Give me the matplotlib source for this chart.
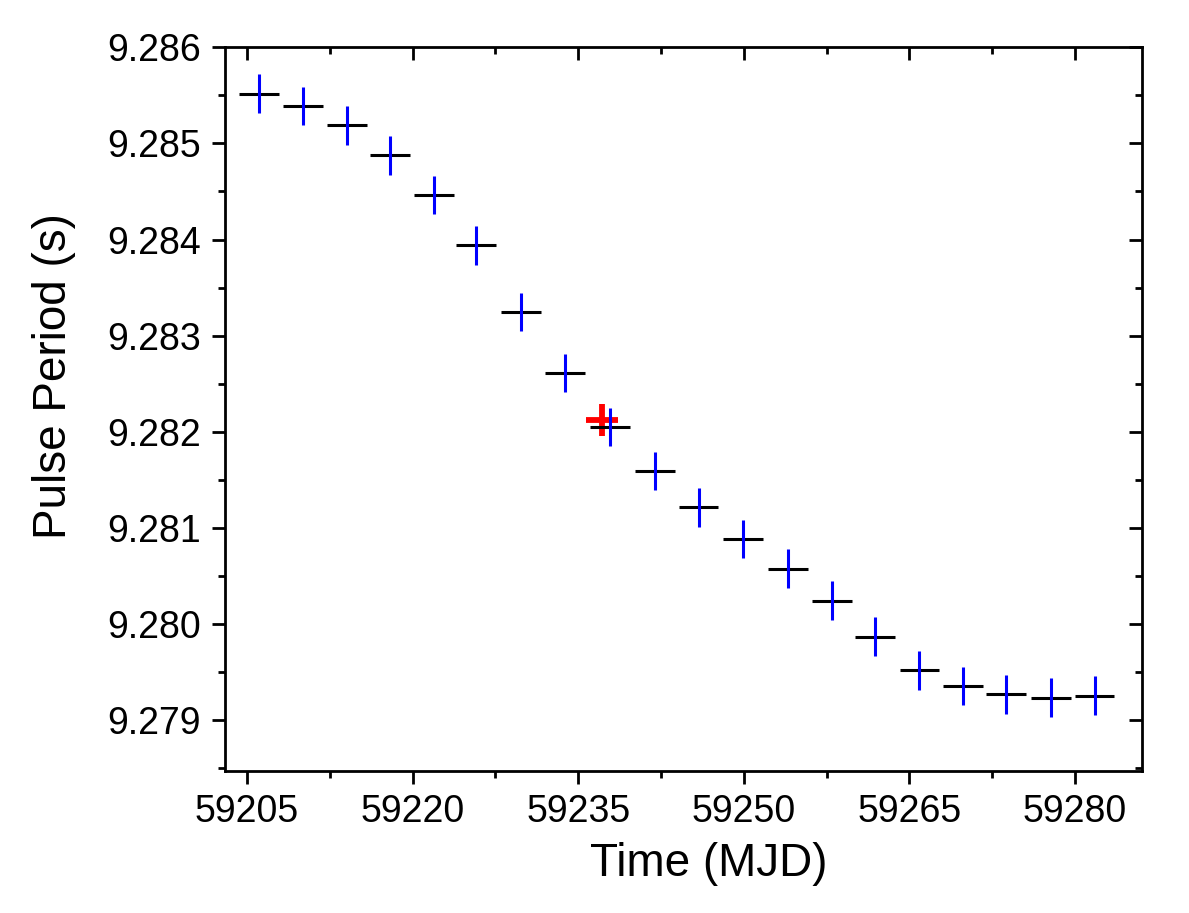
import matplotlib
matplotlib.use("Agg")
import matplotlib.pyplot as plt
from matplotlib.ticker import MultipleLocator, FormatStrFormatter

plt.rcParams['font.family'] = ['Liberation Sans', 'DejaVu Sans']

# Data (MJD, pulse period in s)
mjd = [59206.05, 59210.06, 59214.04, 59217.98, 59221.96, 59225.73, 59229.83,
       59233.81, 59237.88, 59241.92, 59245.90, 59249.94, 59254.00, 59257.98,
       59261.90, 59265.90, 59269.88, 59273.77, 59277.81, 59281.76]
period = [9.285519, 9.285392, 9.285187, 9.284875, 9.284463, 9.283938, 9.283246,
          9.282611, 9.282050, 9.281592, 9.281213, 9.280885, 9.280576, 9.280243,
          9.279868, 9.279518, 9.279356, 9.279268, 9.279234, 9.279255]
mjd_err = [1.8] * len(mjd)
period_err = [0.0002] * len(mjd)

red_mjd = [59237.13]
red_period = [9.282122]
red_mjd_err = [1.45]
red_period_err = [0.000167]

xticks = [59205, 59220, 59235, 59250, 59265, 59280]

fig = plt.figure(figsize=(11.89, 9.13), dpi=100)
ax = fig.add_axes([0.1892, 0.1555, 0.9602 - 0.1892, 0.9482 - 0.1555])

# red point
ax.errorbar(red_mjd, red_period, xerr=red_mjd_err, yerr=red_period_err,
            fmt='none', ecolor='red', elinewidth=4.2, capsize=0, zorder=2)
# horizontal (time) bars in black
ax.errorbar(mjd, period, xerr=mjd_err, fmt='none', ecolor='black',
            elinewidth=2.2, capsize=0, zorder=3)
# vertical (period) bars in blue
ax.errorbar(mjd, period, yerr=period_err, fmt='none', ecolor='blue',
            elinewidth=2.2, capsize=0, zorder=4)

ax.set_xlim(59203.0, 59286.03)
ax.set_ylim(9.27847, 9.286)

ax.set_xticks(xticks)
ax.xaxis.set_minor_locator(MultipleLocator(7.5))
ax.yaxis.set_major_locator(MultipleLocator(0.001))
ax.yaxis.set_minor_locator(MultipleLocator(0.0005))
ax.yaxis.set_major_formatter(FormatStrFormatter('%.3f'))

for s in ax.spines.values():
    s.set_linewidth(2.0)

ax.tick_params(axis='both', which='major', length=9.5, width=2.0, labelsize=27,
               direction='out')
ax.tick_params(axis='both', which='minor', length=5, width=2.0, direction='out')
ax.tick_params(axis='x', which='major', pad=7)
ax.tick_params(axis='y', which='major', pad=8)

# inward ticks on top and right
ax.tick_params(top=True, right=True, which='both')
for t in ax.xaxis.get_major_ticks() + ax.xaxis.get_minor_ticks():
    t.tick2line.set_marker(3)  # TICKDOWN
for t in ax.yaxis.get_major_ticks() + ax.yaxis.get_minor_ticks():
    t.tick2line.set_marker(0)  # TICKLEFT

ax.set_xlabel('Time (MJD)', fontsize=33)
ax.set_ylabel('Pulse Period (s)', fontsize=33)
ax.xaxis.set_label_coords(0.5274, -0.098)
ax.yaxis.set_label_coords(-0.162, 0.546)

fig.savefig('out.png', dpi=100)
